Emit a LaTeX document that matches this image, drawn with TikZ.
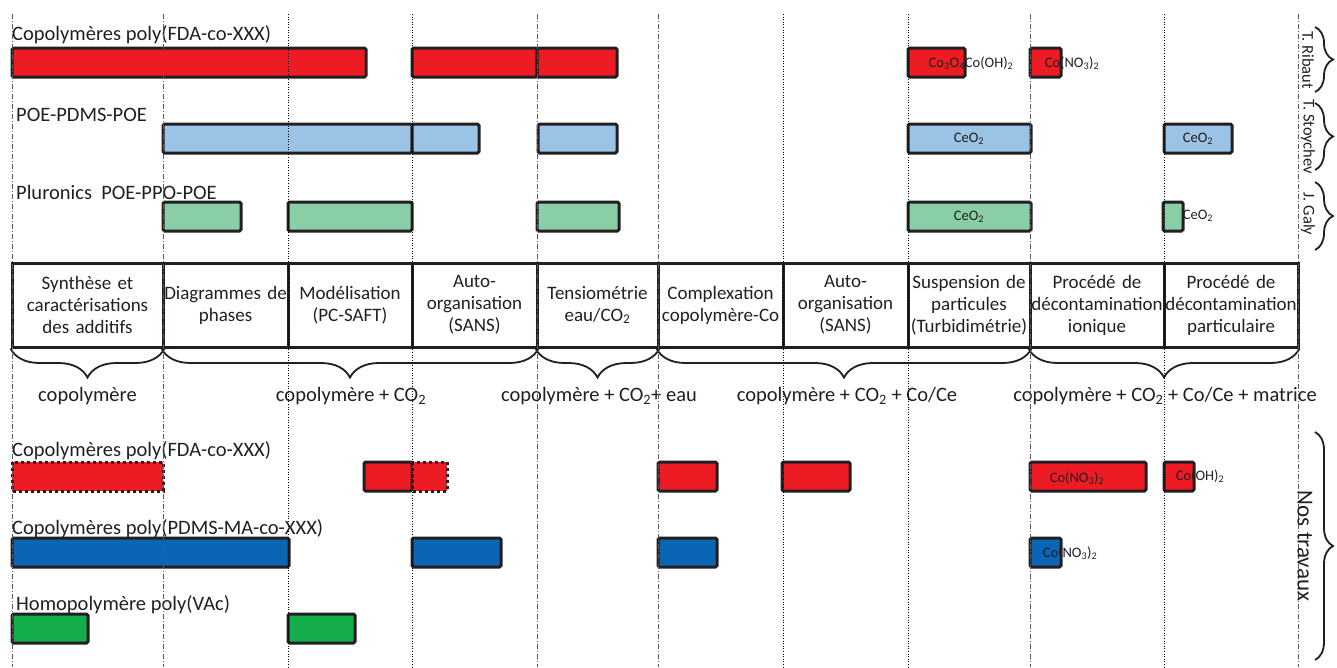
\documentclass[tikz,border=0pt]{standalone}
\usepackage{fontspec}
\setmainfont{Carlito}
\usetikzlibrary{decorations.pathreplacing}
\definecolor{fdared}{RGB}{237,28,36}
\definecolor{pdmsblue}{RGB}{155,195,230}
\definecolor{plugreen}{RGB}{138,206,165}
\definecolor{mablue}{RGB}{10,102,180}
\definecolor{vacgreen}{RGB}{20,173,75}
\definecolor{rim}{RGB}{35,31,32}
\tikzset{
  gbar/.style={draw=rim, line width=3pt, rounded corners=1.5pt},
  dotbar/.style={draw=rim, line width=3pt, dash pattern=on 3pt off 3pt},
  cell/.style={draw=rim, line width=3pt, align=center, text width=#1, minimum height=84pt, inner sep=0pt, text=rim, font=\fontsize{19}{22}\selectfont},
  rowlabel/.style={anchor=west, inner sep=0pt, text=rim, font=\fontsize{20.5}{22}\selectfont},
  chem/.style={inner sep=0pt, text=rim, font=\fontsize{14.5}{16}\selectfont},
  grouplabel/.style={inner sep=0pt, text=rim, font=\fontsize{20.5}{22}\selectfont},
  author/.style={inner sep=0pt, rotate=-90, text=rim, font=\fontsize{16.5}{18}\selectfont},
  groupline/.style={gray!70!black, line width=0.8pt, dash pattern=on 5pt off 2pt on 1pt off 2pt},
  stepline/.style={black, line width=0.6pt, dotted},
  bracket/.style={decorate, decoration={brace, amplitude=#1}, line width=1.8pt, draw=rim},
}
\begin{document}
\begin{tikzpicture}[x=1pt,y=-1pt]
\useasboundingbox (0,0) rectangle (1337,667);
\node[rowlabel] (fdatop) at (12,35) {Copolymères poly(FDA-co-XXX)};
\draw[gbar, fill=fdared] (12,48) rectangle (366,77);
\draw[gbar, fill=fdared] (412,48) rectangle (537,77);
\draw[gbar, fill=fdared] (537,48) rectangle (617,77);
\draw[gbar, fill=fdared] (908,48) rectangle (965,77);
\draw[gbar, fill=fdared] (1030,48) rectangle (1061,77);
\node[chem] (cooxtop) at (971,63) {Co\textsubscript{3}O\textsubscript{4}Co(OH)\textsubscript{2}};
\node[chem] (conotop) at (1072,63) {Co(NO\textsubscript{3})\textsubscript{2}};
\node[rowlabel] (pdmstop) at (16,115) {POE-PDMS-POE};
\draw[gbar, fill=pdmsblue] (163,124) rectangle (412,153);
\draw[gbar, fill=pdmsblue] (412,124) rectangle (479,153);
\draw[gbar, fill=pdmsblue] (538,124) rectangle (617,153);
\draw[gbar, fill=pdmsblue] (908,124) rectangle (1031,153);
\draw[gbar, fill=pdmsblue] (1164,124) rectangle (1232,153);
\node[chem] (ceblueA) at (969,139) {CeO\textsubscript{2}};
\node[chem] (ceblueB) at (1198,139) {CeO\textsubscript{2}};
\node[rowlabel] (plutop) at (16,192) {Pluronics~ POE-PPO-POE};
\draw[gbar, fill=plugreen] (163,202) rectangle (241,231);
\draw[gbar, fill=plugreen] (288,202) rectangle (412,231);
\draw[gbar, fill=plugreen] (537,202) rectangle (619,231);
\draw[gbar, fill=plugreen] (908,202) rectangle (1031,231);
\draw[gbar, fill=plugreen] (1163,202) rectangle (1183,231);
\node[chem] (cegreenA) at (969,217) {CeO\textsubscript{2}};
\node[chem] (cegreenB) at (1198,216) {CeO\textsubscript{2}};
\node[cell=151pt] (synth) at (87.5,305) {Synthèse et\\caractérisations\\des additifs};
\node[cell=125pt] (diag) at (225.5,305) {Diagrammes de\\phases};
\node[cell=124pt] (model) at (350,305) {Modélisation\\(PC-SAFT)};
\node[cell=125pt] (autoA) at (474.5,305) {Auto-\\organisation\\(SANS)};
\node[cell=121pt] (tensio) at (597.5,305) {Tensiométrie\\eau/CO\textsubscript{2}};
\node[cell=125pt] (complex) at (720.5,305) {Complexation\\copolymère-Co};
\node[cell=125pt] (autoB) at (845.5,305) {Auto-\\organisation\\(SANS)};
\node[cell=122pt] (susp) at (969,305) {Suspension de\\particules\\(Turbidimétrie)};
\node[cell=134pt] (procion) at (1097,305) {Procédé de\\décontamination\\ionique};
\node[cell=134pt] (procpart) at (1231,305) {Procédé de\\décontamination\\particulaire};
\draw[bracket=29pt] (synth.south east) -- (synth.south west);
\draw[bracket=29pt] (autoA.south east) -- (diag.south west);
\draw[bracket=29pt] (tensio.south east) -- (tensio.south west);
\draw[bracket=29pt] (susp.south east) -- (complex.south west);
\draw[bracket=29pt] (procpart.south east) -- (procion.south west);
\node[grouplabel] (gcopo) at (87.5,396) {copolymère};
\node[grouplabel] (gco2) at (351,396) {copolymère + CO\textsubscript{2}};
\node[grouplabel] (geau) at (599,396) {copolymère + CO\textsubscript{2}+ eau};
\node[grouplabel] (gcoce) at (847,396) {copolymère + CO\textsubscript{2} + Co/Ce};
\node[grouplabel] (gmatrix) at (1165,396) {copolymère + CO\textsubscript{2} + Co/Ce + matrice};
\node[rowlabel] (fdabot) at (12,451) {Copolymères poly(FDA-co-XXX)};
\draw[dotbar, fill=fdared] (12,462) rectangle (163,491);
\draw[gbar, fill=fdared] (364,462) rectangle (412,491);
\draw[dotbar, fill=fdared] (412,462) rectangle (447,491);
\draw[gbar, fill=fdared] (658,462) rectangle (717,491);
\draw[gbar, fill=fdared] (782,462) rectangle (850,491);
\draw[gbar, fill=fdared] (1030,462) rectangle (1146,491);
\draw[gbar, fill=fdared] (1164,462) rectangle (1194,491);
\node[chem] (conobot) at (1077,478) {Co(NO\textsubscript{3})\textsubscript{2}};
\node[chem] (coohbot) at (1200,476) {Co(OH)\textsubscript{2}};
\node[rowlabel] (mabot) at (12,529) {Copolymères poly(PDMS-MA-co-XXX)};
\draw[gbar, fill=mablue] (12,538) rectangle (289,567);
\draw[gbar, fill=mablue] (412,538) rectangle (501,567);
\draw[gbar, fill=mablue] (658,538) rectangle (717,567);
\draw[gbar, fill=mablue] (1030,538) rectangle (1061,567);
\node[chem] (conoblue) at (1070,553) {Co(NO\textsubscript{3})\textsubscript{2}};
\node[rowlabel] (vacbot) at (16,605) {Homopolymère poly(VAc)};
\draw[gbar, fill=vacgreen] (12,614) rectangle (88,643);
\draw[gbar, fill=vacgreen] (288,614) rectangle (355,643);
\draw[groupline] (12,14) -- (12,667);
\draw[groupline] (163,14) -- (163,667);
\draw[stepline] (288,14) -- (288,667);
\draw[stepline] (412,14) -- (412,667);
\draw[groupline] (537,14) -- (537,667);
\draw[groupline] (658,14) -- (658,667);
\draw[stepline] (783,14) -- (783,667);
\draw[stepline] (908,14) -- (908,667);
\draw[groupline] (1030,14) -- (1030,667);
\draw[stepline] (1164,14) -- (1164,667);
\draw[groupline] (1298,14) -- (1298,667);
\node[author] (ribaut) at (1308,60) {T. Ribaut};
\node[author] (stoychev) at (1308,137) {T. Stoychev};
\node[author] (galy) at (1308,214) {J. Galy};
\draw[bracket=18pt] (1315,27) -- (1315,92);
\draw[bracket=18pt] (1315,103) -- (1315,170);
\draw[bracket=18pt] (1315,182) -- (1315,250);
\node[author, font=\fontsize{23}{25}\selectfont] (nous) at (1305,546) {Nos travaux};
\draw[bracket=18pt] (1315,432) -- (1315,660);
\end{tikzpicture}
\end{document}
